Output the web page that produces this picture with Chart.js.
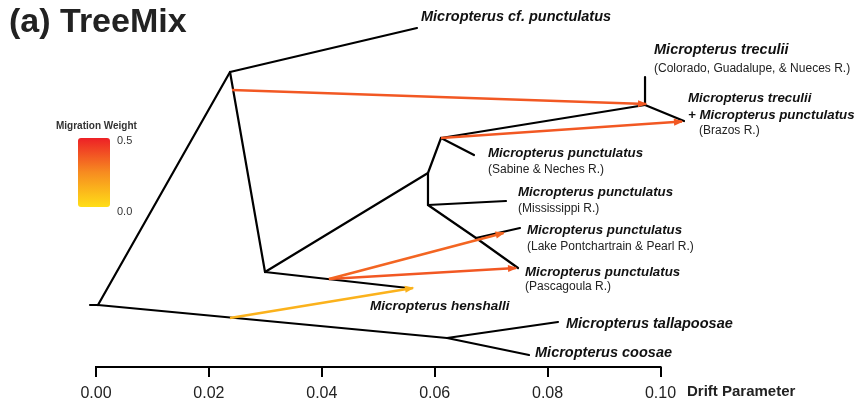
<!DOCTYPE html>
<html>
<head>
<meta charset="utf-8">
<title>TreeMix</title>
<script src="https://cdn.jsdelivr.net/npm/chart.js@4/dist/chart.umd.min.js"></script>
<style>
  html, body { margin: 0; padding: 0; background: #ffffff; }
  #wrap { width: 856px; height: 402px; position: relative; }
</style>
</head>
<body>
<div id="wrap"><canvas id="tree" width="856" height="402"></canvas></div>
<script>
// ---- data -------------------------------------------------------------
// Drift-parameter axis ticks
const tickValues = [0.00, 0.02, 0.04, 0.06, 0.08, 0.10];

// Tree nodes: drift (x) and vertical row position (y, top = 0)
const nodeNames = ['stub', 'root', 'A', 'cfPunct', 'B', 'henshalli', 'C', 'D', 'sabine',
                   'T', 'treculii', 'brazos', 'E', 'mississippi', 'F', 'lakeP', 'pascagoula',
                   'G', 'tallapoosae', 'coosae'];
const nodeDrift = [-0.00106, 0.00035, 0.02374, 0.05686, 0.02994, 0.05527, 0.05881, 0.06112, 0.06696,
                   0.09726, 0.09726, 0.10416, 0.05881, 0.07263, 0.06732, 0.07511, 0.07476,
                   0.06218, 0.08184, 0.07671];
const nodeY     = [30.5, 30.5, 7.2, 2.8, 27.2, 28.8, 17.3, 13.8, 15.5,
                   10.5, 7.7, 12.1, 20.5, 20.1, 23.8, 22.8, 26.8,
                   33.8, 32.2, 35.5];

// Tree edges (parent -> child)
const edgeFrom = ['stub', 'root', 'root', 'A', 'A', 'B', 'B', 'C', 'C', 'D', 'D', 'T', 'T', 'E', 'E', 'F', 'F', 'G', 'G'];
const edgeTo   = ['root', 'A', 'G', 'cfPunct', 'B', 'henshalli', 'C', 'D', 'E', 'sabine', 'T', 'treculii', 'brazos', 'mississippi', 'F', 'lakeP', 'pascagoula', 'tallapoosae', 'coosae'];

// Migration edges: source point, target point, weight
const migFromDrift = [0.02410, 0.06112, 0.04127, 0.04127, 0.02374];
const migFromY     = [9.0, 13.8, 27.9, 27.9, 31.8];
const migToDrift   = [0.09743, 0.10380, 0.07220, 0.07440, 0.05615];
const migToY       = [10.4, 12.15, 23.3, 26.8, 28.8];
const migWeight    = [0.37, 0.37, 0.34, 0.37, 0.135];

// Legend scale of the migration weight
const weightTicks = ['0.5', '0.0'];

// Leaf labels: species name (bold italic) and river system
const leafNodes   = ['cfPunct', 'treculii', 'brazos', 'sabine', 'mississippi', 'lakeP', 'pascagoula', 'henshalli', 'tallapoosae', 'coosae'];
const leafSpecies = [
  ['Micropterus cf. punctulatus'],
  ['Micropterus treculii'],
  ['Micropterus treculii', '+ Micropterus punctulatus'],
  ['Micropterus punctulatus'],
  ['Micropterus punctulatus'],
  ['Micropterus punctulatus'],
  ['Micropterus punctulatus'],
  ['Micropterus henshalli'],
  ['Micropterus tallapoosae'],
  ['Micropterus coosae']
];
const leafRiver = ['', '(Colorado, Guadalupe, & Nueces R.)', '(Brazos R.)', '(Sabine & Neches R.)',
                   '(Mississippi R.)', '(Lake Pontchartrain & Pearl R.)', '(Pascagoula R.)', '', '', ''];

// ---- layout of the labels (pixel offsets from the leaf tip) -----------
const labelLayout = {
  cfPunct:     { dx: 4,   dy: [-11],    rdx: 0,  rdy: 0,  size: 14.5 },
  treculii:    { dx: 9,   dy: [-27],    rdx: 9,  rdy: -8, size: 14.5 },
  brazos:      { dx: 4,   dy: [-23, -6], rdx: 15, rdy: 10, size: 13.3 },
  sabine:      { dx: 14,  dy: [-2],     rdx: 14, rdy: 15, size: 13.3 },
  mississippi: { dx: 12,  dy: [-9],     rdx: 12, rdy: 8,  size: 13.3 },
  lakeP:       { dx: 7,   dy: [2],      rdx: 7,  rdy: 19, size: 13.3 },
  pascagoula:  { dx: 7,   dy: [4],      rdx: 7,  rdy: 19, size: 13.3 },
  henshalli:   { dx: -38, dy: [18],     rdx: 0,  rdy: 0,  size: 13.5 },
  tallapoosae: { dx: 8,   dy: [2],      rdx: 0,  rdy: 0,  size: 14.5 },
  coosae:      { dx: 6,   dy: [-2],     rdx: 0,  rdy: 0,  size: 14.5 }
};

const FONT = '"Liberation Sans", Arial, Helvetica, sans-serif';
const PX_PER_UNIT = 5645;      // horizontal resolution of the drift axis
const ORIGIN_PX = 96;          // where drift 0 sits

// weight -> colour on the yellow / orange / red ramp
const rampStops = [
  { w: 0.0,  c: [255, 222, 23] },
  { w: 0.25, c: [247, 140, 32] },
  { w: 0.5,  c: [237, 32, 38] }
];
function weightColor(w) {
  for (let i = 0; i < rampStops.length - 1; i++) {
    const a = rampStops[i], b = rampStops[i + 1];
    if (w <= b.w) {
      const t = (w - a.w) / (b.w - a.w);
      const c = a.c.map((v, k) => Math.round(v + (b.c[k] - v) * t));
      return 'rgb(' + c.join(',') + ')';
    }
  }
  return 'rgb(' + rampStops[rampStops.length - 1].c.join(',') + ')';
}

function nodeIndex(name) { return nodeNames.indexOf(name); }
function nodePoint(name) { const i = nodeIndex(name); return { x: nodeDrift[i], y: nodeY[i] }; }

// ---- datasets ---------------------------------------------------------
const datasets = [];
edgeFrom.forEach((f, i) => {
  datasets.push({
    data: [nodePoint(f), nodePoint(edgeTo[i])],
    showLine: true, borderColor: '#000000', borderWidth: 2.2,
    pointRadius: 0, borderCapStyle: 'round', order: 2
  });
});
migWeight.forEach((w, i) => {
  datasets.push({
    data: [{ x: migFromDrift[i], y: migFromY[i] }, { x: migToDrift[i], y: migToY[i] }],
    showLine: true, borderColor: weightColor(w), borderWidth: 2.6,
    pointRadius: 0, order: 1, migration: i
  });
});

// ---- decorations drawn on the canvas -----------------------------------
const decorations = {
  id: 'decorations',
  afterDatasetsDraw(chart) {
    const ctx = chart.ctx;
    const xs = chart.scales.x, ys = chart.scales.y;
    const area = chart.chartArea;
    ctx.save();

    // arrowheads on the migration edges
    migWeight.forEach((w, i) => {
      const x1 = xs.getPixelForValue(migFromDrift[i]), y1 = ys.getPixelForValue(migFromY[i]);
      const x2 = xs.getPixelForValue(migToDrift[i]),   y2 = ys.getPixelForValue(migToY[i]);
      const ang = Math.atan2(y2 - y1, x2 - x1);
      const len = 8, half = 3.6;
      ctx.fillStyle = weightColor(w);
      ctx.beginPath();
      ctx.moveTo(x2 + 1.5 * Math.cos(ang), y2 + 1.5 * Math.sin(ang));
      ctx.lineTo(x2 - len * Math.cos(ang) - half * Math.sin(ang), y2 - len * Math.sin(ang) + half * Math.cos(ang));
      ctx.lineTo(x2 - len * Math.cos(ang) + half * Math.sin(ang), y2 - len * Math.sin(ang) - half * Math.cos(ang));
      ctx.closePath();
      ctx.fill();
    });

    // axis line from the first to the last tick
    ctx.strokeStyle = '#000';
    ctx.lineWidth = 2;
    ctx.beginPath();
    ctx.moveTo(xs.getPixelForValue(tickValues[0]) - 1, area.bottom);
    ctx.lineTo(xs.getPixelForValue(tickValues[tickValues.length - 1]) + 1, area.bottom);
    ctx.stroke();

    // axis name, to the right of the tick labels
    ctx.fillStyle = '#222';
    ctx.textBaseline = 'middle';
    ctx.textAlign = 'left';
    ctx.font = 'bold 15px ' + FONT;
    ctx.fillText('Drift Parameter', 687, 392);

    // leaf labels
    leafNodes.forEach((n, i) => {
      const p = nodePoint(n);
      const px = xs.getPixelForValue(p.x), py = ys.getPixelForValue(p.y);
      const L = labelLayout[n];
      ctx.fillStyle = '#111';
      ctx.font = 'italic bold ' + L.size + 'px ' + FONT;
      leafSpecies[i].forEach((line, k) => ctx.fillText(line, px + L.dx, py + L.dy[k]));
      if (leafRiver[i]) {
        ctx.fillStyle = '#222';
        ctx.font = '12px ' + FONT;
        ctx.fillText(leafRiver[i], px + L.rdx, py + L.rdy);
      }
    });

    // panel title
    ctx.fillStyle = '#222';
    ctx.font = 'bold 34px ' + FONT;
    ctx.fillText('(a) TreeMix', 9, 23);

    // migration weight legend
    ctx.font = 'bold 10px ' + FONT;
    ctx.fillStyle = '#333';
    ctx.fillText('Migration Weight', 56, 126);
    const gx = 78, gy = 138, gw = 32, gh = 69;
    const grad = ctx.createLinearGradient(0, gy, 0, gy + gh);
    grad.addColorStop(0, weightColor(0.5));
    grad.addColorStop(0.5, weightColor(0.25));
    grad.addColorStop(1, weightColor(0));
    ctx.fillStyle = grad;
    ctx.beginPath();
    if (ctx.roundRect) ctx.roundRect(gx, gy, gw, gh, 3); else ctx.rect(gx, gy, gw, gh);
    ctx.fill();
    ctx.fillStyle = '#333';
    ctx.font = '11px ' + FONT;
    ctx.fillText(weightTicks[0], 117, 141);
    ctx.fillText(weightTicks[1], 117, 212);

    ctx.restore();
  }
};

new Chart(document.getElementById('tree'), {
  type: 'scatter',
  data: { datasets },
  options: {
    responsive: false,
    devicePixelRatio: 1,
    animation: false,
    events: [],
    layout: { padding: 0 },
    plugins: { legend: { display: false }, tooltip: { enabled: false }, title: { display: false } },
    scales: {
      x: {
        type: 'linear',
        min: -ORIGIN_PX / PX_PER_UNIT,
        max: (856 - ORIGIN_PX) / PX_PER_UNIT,
        afterBuildTicks: (scale) => { scale.ticks = tickValues.map(v => ({ value: v })); },
        afterFit: (scale) => { scale.height = 35; },
        border: { display: false },
        grid: { drawOnChartArea: false, drawTicks: true, tickLength: 10, color: '#000', lineWidth: 2 },
        ticks: {
          autoSkip: false, maxRotation: 0, padding: 7, color: '#222',
          font: { family: FONT, size: 16 },
          callback: (v) => Number(v).toFixed(2)
        }
      },
      y: {
        type: 'linear', display: false, reverse: true, min: 0, max: 36.7
      }
    }
  },
  plugins: [decorations]
});
</script>
</body>
</html>
